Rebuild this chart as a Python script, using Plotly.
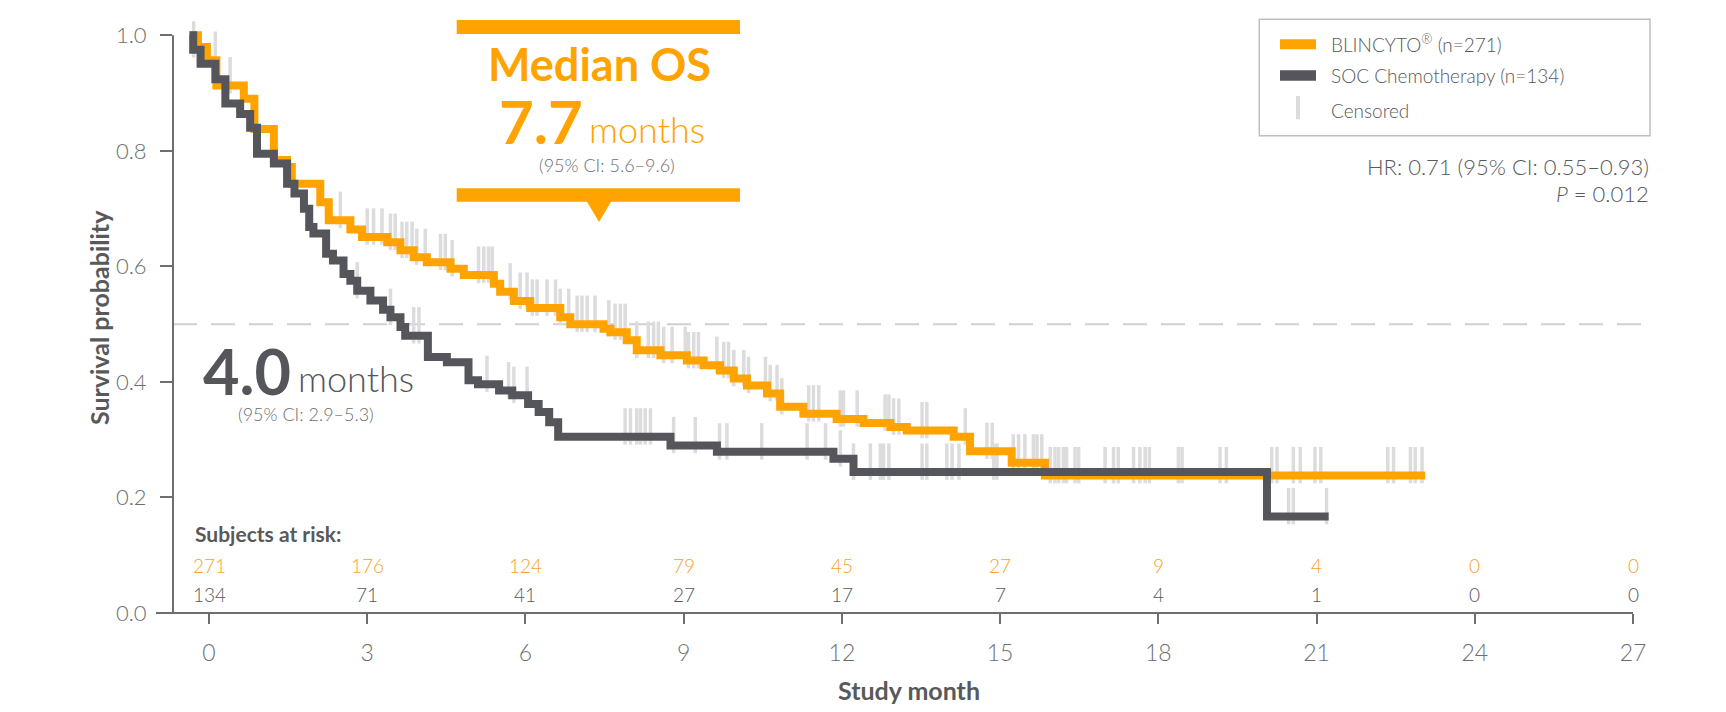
import plotly.graph_objects as go

# Kaplan-Meier steps: month of step, survival after the step
blin_t = [-0.37, -0.21, -0.04, 0.14, 0.66, 0.86, 1.23, 1.48, 1.57, 2.11, 2.27, 2.68, 2.9, 3.38,
          3.63, 3.88, 4.13, 4.58, 4.83, 5.4, 5.52, 5.78, 6.09, 6.66, 6.85, 7.48, 7.61, 7.92,
          8.11, 8.56, 9.06, 9.38, 9.69, 9.95, 10.2, 10.58, 10.83, 11.27, 11.9, 12.41, 12.92,
          13.23, 14.12, 14.43, 15.22, 15.85, 23.06]
blin_s = [1.0, 0.98, 0.957, 0.913, 0.89, 0.838, 0.784, 0.772, 0.743, 0.711, 0.68, 0.664, 0.651,
          0.642, 0.628, 0.616, 0.607, 0.596, 0.585, 0.57, 0.556, 0.54, 0.528, 0.512, 0.5, 0.492,
          0.486, 0.472, 0.455, 0.446, 0.437, 0.429, 0.42, 0.406, 0.394, 0.38, 0.357, 0.345,
          0.336, 0.329, 0.322, 0.316, 0.305, 0.28, 0.26, 0.238, 0.238]

soc_t = [-0.37, -0.30, -0.16, 0.12, 0.31, 0.59, 0.78, 0.91, 1.23, 1.48, 1.62, 1.80, 1.90, 1.98,
         2.22, 2.35, 2.55, 2.68, 2.81, 3.06, 3.30, 3.44, 3.63, 3.72, 4.15, 4.51, 4.92, 5.10,
         5.50, 5.75, 6.05, 6.25, 6.45, 6.62, 8.75, 9.63, 11.84, 12.22, 20.06, 21.23]
soc_s = [1.0, 0.975, 0.951, 0.924, 0.882, 0.864, 0.84, 0.795, 0.778, 0.743, 0.726, 0.70, 0.668,
         0.657, 0.622, 0.61, 0.587, 0.575, 0.558, 0.541, 0.525, 0.512, 0.495, 0.48, 0.443,
         0.434, 0.403, 0.396, 0.385, 0.377, 0.362, 0.348, 0.33, 0.305, 0.29, 0.279, 0.267,
         0.244, 0.167, 0.167]

# censoring times (months)
blin_cens = [0.12, 0.40, 2.49, 3.0, 3.12, 3.28, 3.44, 3.53, 3.66, 3.75, 3.85, 3.94, 4.1, 4.39,
             4.48, 4.61, 5.11, 5.21, 5.3, 5.37, 5.71, 5.9, 6.03, 6.13, 6.22, 6.41, 6.57, 6.66,
             6.82, 6.98, 7.07, 7.17, 7.32, 7.58, 7.7, 7.8, 7.89, 8.11, 8.33, 8.43, 8.52, 8.62,
             8.78, 9.03, 9.09, 9.19, 9.28, 9.63, 9.76, 9.85, 9.95, 10.14, 10.23, 10.55, 10.64,
             10.77, 10.86, 11.37, 11.46, 11.56, 11.97, 12.03, 12.29, 12.82, 12.89, 12.98, 13.08,
             13.52, 13.61, 14.34, 14.75, 14.85, 15.25, 15.35, 15.47, 15.63, 15.7, 15.79, 15.95,
             16.04, 16.11, 16.2, 16.26, 16.42, 16.49, 16.99, 17.15, 17.24, 17.53, 17.65, 17.75,
             17.83, 18.38, 18.45, 19.17, 19.29, 20.15, 20.25, 20.56, 20.69, 20.97, 21.08, 22.35,
             22.46, 22.78, 22.87, 23.0]
soc_cens = [-0.29, 2.81, 3.44, 3.88, 3.98, 5.27, 5.68, 5.78, 6.03, 7.89, 7.99, 8.11, 8.18, 8.27,
            8.37, 8.81, 9.22, 9.68, 9.82, 10.48, 11.34, 11.69, 11.97, 12.22, 12.54, 12.73, 12.79,
            12.89, 13.52, 13.61, 13.99, 14.09, 14.22, 14.88, 14.94, 20.47, 20.56, 21.19]

# subjects at risk
risk_months = [0, 3, 6, 9, 12, 15, 18, 21, 24, 27]
blin_risk = [271, 176, 124, 79, 45, 27, 9, 4, 0, 0]
soc_risk = [134, 71, 41, 27, 17, 7, 4, 1, 0, 0]

ORANGE = "#FFA300"
GREY = "#55565B"
TEXT = "#58595B"
TICK = "#6D6E71"
CENS = "#DCDCDC"
FONT = "Lato"

# the page body adds an 8px offset, so the figure is drawn 8px smaller/shifted
W, H = 1710, 696
L, R, T, B = 165, 85, 10, 91


def px(X):
    # page pixel -> paper x
    return (X - 8 - L) / (W - L - R)


def py(Y):
    # page pixel -> paper y
    return (H - B - (Y - 8)) / (H - T - B)


def surv_at(times, surv, t):
    s = surv[0]
    for ti, si in zip(times, surv):
        if ti <= t:
            s = si
    return s


fig = go.Figure()

# censor marks first so the curves sit on top
for cens, times, surv in [(blin_cens, blin_t, blin_s), (soc_cens, soc_t, soc_s)]:
    fig.add_trace(go.Scatter(
        x=cens,
        y=[surv_at(times, surv, c) + 0.018 for c in cens],
        mode="markers",
        marker=dict(symbol="line-ns", size=26, line=dict(width=3.5, color=CENS)),
        hoverinfo="skip",
        showlegend=False,
    ))

fig.add_trace(go.Scatter(x=blin_t, y=blin_s, mode="lines", line=dict(shape="hv", width=8, color=ORANGE),
                         name="BLINCYTO® (n=271)", showlegend=False))
fig.add_trace(go.Scatter(x=soc_t, y=soc_s, mode="lines", line=dict(shape="hv", width=8, color=GREY),
                         name="SOC Chemotherapy (n=134)", showlegend=False))

shapes = [
    # axis lines
    dict(type="line", xref="paper", yref="paper", x0=0, x1=0, y0=0, y1=py(35.3),
         line=dict(color=TICK, width=2)),
    dict(type="line", xref="paper", yref="paper", x0=px(156), x1=1, y0=0, y1=0,
         line=dict(color=TICK, width=2)),
    # median line
    dict(type="line", xref="paper", yref="y", x0=0, x1=px(1650), y0=0.5, y1=0.5, layer="below",
         line=dict(color="#D0D0D0", width=2, dash="24px,14px")),
    # callout bars
    dict(type="rect", xref="paper", yref="paper", x0=px(456.7), x1=px(740), y0=py(34), y1=py(20),
         fillcolor=ORANGE, line=dict(width=0)),
    dict(type="rect", xref="paper", yref="paper", x0=px(456.7), x1=px(740), y0=py(201.7), y1=py(188.3),
         fillcolor=ORANGE, line=dict(width=0)),
    dict(type="path", xref="paper", yref="paper",
         path="M {} {} L {} {} L {} {} Z".format(px(586.5), py(201), px(611.5), py(201), px(599), py(222)),
         fillcolor=ORANGE, line=dict(width=0)),
    # legend box and swatches
    dict(type="rect", xref="paper", yref="paper", x0=px(1259.3), x1=px(1650), y0=py(135.7), y1=py(19.3),
         line=dict(color="#BCBEC0", width=1.5)),
    dict(type="rect", xref="paper", yref="paper", x0=px(1280), x1=px(1316), y0=py(49.3), y1=py(39.3),
         fillcolor=ORANGE, line=dict(width=0)),
    dict(type="rect", xref="paper", yref="paper", x0=px(1280), x1=px(1316), y0=py(80.7), y1=py(70.3),
         fillcolor=GREY, line=dict(width=0)),
    dict(type="rect", xref="paper", yref="paper", x0=px(1296), x1=px(1300), y0=py(119.3), y1=py(96),
         fillcolor=CENS, line=dict(width=0)),
]

annotations = []


def note(text, X, Y, size, color, weight=300, xanchor="center", angle=0, xref="paper"):
    annotations.append(dict(
        text=text, xref=xref, yref="paper",
        x=X if xref != "paper" else px(X), y=py(Y),
        xanchor=xanchor, yanchor="middle", showarrow=False, textangle=angle,
        font=dict(family=FONT, size=size, color=color, weight=weight),
    ))


note("Median OS", 599, 64, 45, ORANGE, weight=700)
note("7.7", 585, 121, 60, ORANGE, weight=700, xanchor="right")
note("months", 587, 129, 36, ORANGE, xanchor="left")
note("(95% CI: 5.6–9.6)", 607, 165, 18, TICK)

note("4.0", 293, 370, 63, GREY, weight=700, xanchor="right")
note("months", 296, 378, 36, GREY, xanchor="left")
note("(95% CI: 2.9–5.3)", 305.6, 414, 18, TICK)

note("BLINCYTO<sup>®</sup> (n=271)", 1329, 43.5, 19, TEXT, xanchor="left")
note("SOC Chemotherapy (n=134)", 1329, 75, 19, TEXT, xanchor="left")
note("Censored", 1329, 110, 19, TEXT, xanchor="left")

note("HR: 0.71 (95% CI: 0.55–0.93)", 1651, 166, 22, TEXT, xanchor="right")
note("<i>P</i> = 0.012", 1651, 194, 22, TEXT, xanchor="right")

note("Subjects at risk:", 193, 533.5, 21, TEXT, weight=700, xanchor="left")
for m, a, b in zip(risk_months, blin_risk, soc_risk):
    note(str(a), m, 565.5, 19, "#F7A131", xref="x")
    note(str(b), m, 594, 19, TEXT, xref="x")

note("Survival probability", 99, 318, 25, TEXT, weight=700, angle=-90)
note("Study month", 909, 690, 25, TEXT, weight=700)

fig.update_layout(
    width=W, height=H,
    margin=dict(l=L, r=R, t=T, b=B),
    plot_bgcolor="white", paper_bgcolor="white",
    font=dict(family=FONT, color=TICK),
    shapes=shapes,
    annotations=annotations,
    showlegend=False,
    xaxis=dict(
        range=[-0.683, 27], tickvals=risk_months, showgrid=False, zeroline=False, showline=False,
        ticks="outside", ticklen=10, tickwidth=2, tickcolor=TICK, ticklabelstandoff=9,
        tickfont=dict(family=FONT, size=23, color=TICK, weight=300),
    ),
    yaxis=dict(
        range=[0, 1.03], tickvals=[0, 0.2, 0.4, 0.6, 0.8, 1.0], ticktext=["0.0", "0.2", "0.4", "0.6", "0.8", "1.0"],
        showgrid=False, zeroline=False, showline=False,
        ticks="outside", ticklen=12, tickwidth=2, tickcolor=TICK, ticklabelstandoff=9,
        tickfont=dict(family=FONT, size=22, color=TICK, weight=300),
    ),
)

fig.write_html("out.html")
